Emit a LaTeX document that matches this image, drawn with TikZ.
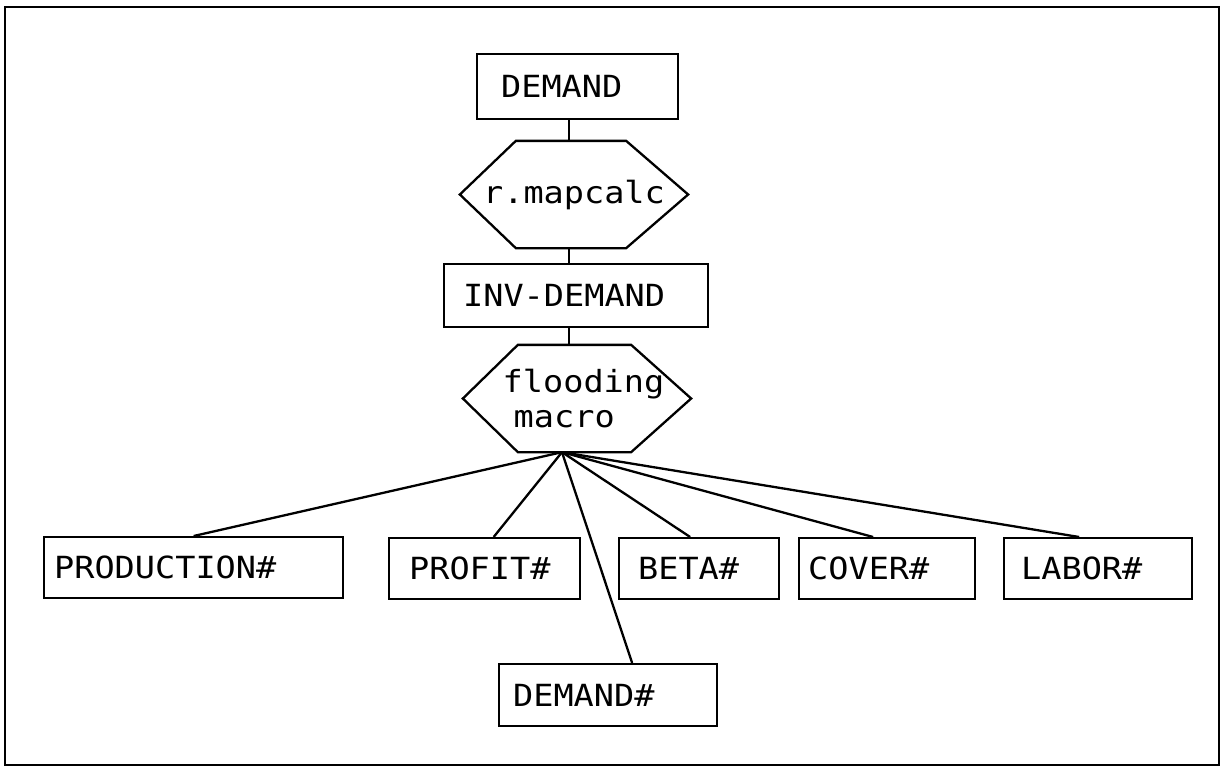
\documentclass[tikz,border=0pt]{standalone}
\usepackage{fontspec}
\newfontfamily\plotfont[FakeStretch=1.1]{DejaVu Sans Mono}
\usetikzlibrary{calc}
\begin{document}
\begin{tikzpicture}[x=1pt,y=-1pt,line width=2.3pt,
  txt/.style={font=\plotfont\fontsize{30.5}{35}\selectfont},
  bx/.style={txt,draw,rectangle,anchor=north west,align=left,inner ysep=0pt},
  hx/.style={txt,rectangle,inner sep=0pt,minimum width=226pt,minimum height=105pt},
  conn/.style={line width=2.3pt}]
\useasboundingbox (0,0) rectangle (1226,772);
\draw (5,7) rectangle (1219,765);
% boxes
\node[bx,minimum height=65pt,text width=153pt,inner xsep=24pt] (demand) at (476,53) {DEMAND};
\node[hx] (calc) at (574,194.5) {r.mapcalc};
\node[bx,minimum height=63pt,text width=226pt,inner xsep=19pt] (inv) at (443,263) {INV-DEMAND};
\node[hx,align=left] (flood) at (577,398.5) {\hspace*{13pt}flooding\\\hspace*{24pt}macro};
\node[bx,minimum height=61pt,text width=279pt,inner xsep=10pt] (prod) at (43,536) {PRODUCTION\#};
\node[bx,minimum height=61pt,text width=151pt,inner xsep=20pt] (profit) at (388,537) {PROFIT\#};
\node[bx,minimum height=62pt,text width=190pt,inner xsep=14pt] (ddem) at (498,663) {DEMAND\#};
\node[bx,minimum height=61pt,text width=122pt,inner xsep=19pt] (beta) at (618,537) {BETA\#};
\node[bx,minimum height=61pt,text width=158pt,inner xsep=9pt] (cover) at (798,537) {COVER\#};
\node[bx,minimum height=61pt,text width=154pt,inner xsep=17pt] (labor) at (1003,537) {LABOR\#};
% hexagon outlines
\draw (calc.west) -- ([xshift=56pt]calc.north west) -- ([xshift=-62pt]calc.north east) -- (calc.east)
  -- ([xshift=-62pt]calc.south east) -- ([xshift=56pt]calc.south west) -- cycle;
\draw (flood.west) -- ([xshift=55pt]flood.north west) -- ([xshift=-60pt]flood.north east) -- (flood.east)
  -- ([xshift=-60pt]flood.south east) -- ([xshift=55pt]flood.south west) -- cycle;
% vertical connectors
\draw[conn] ([xshift=-5pt]calc.north) -- ([xshift=-5pt]calc.north |- demand.south);
\draw[conn] ([xshift=-5pt]calc.south) -- ([xshift=-5pt]calc.south |- inv.north);
\draw[conn] ([xshift=-8pt]flood.north) -- ([xshift=-8pt]flood.north |- inv.south);
% fan
\coordinate (fan) at ([xshift=-15pt]flood.south);
\draw[conn] (fan) -- (prod.north);
\draw[conn] (fan) -- ([xshift=9pt]profit.north);
\draw[conn] (fan) -- ([xshift=24pt]ddem.north);
\draw[conn] (fan) -- ([xshift=-9pt]beta.north);
\draw[conn] (fan) -- ([xshift=-14pt]cover.north);
\draw[conn] (fan) -- ([xshift=-19pt]labor.north);
\end{tikzpicture}
\end{document}
